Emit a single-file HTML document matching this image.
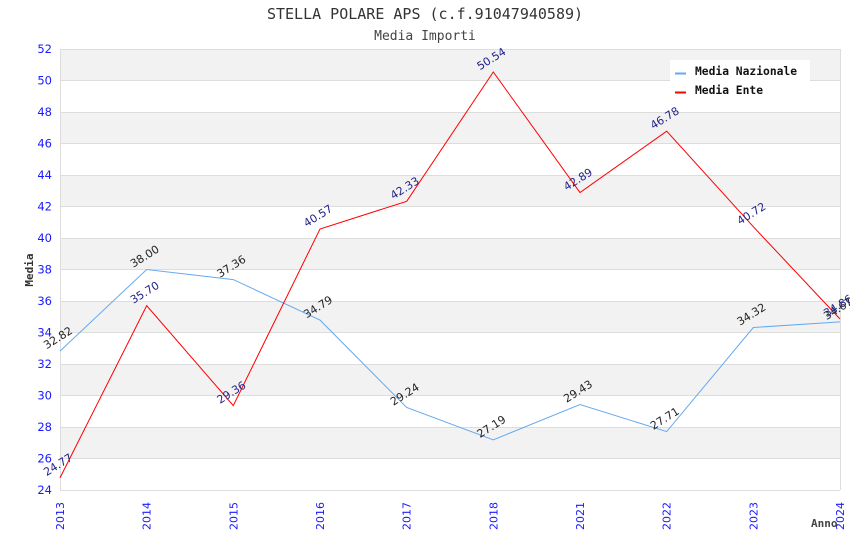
<!DOCTYPE html>
<html><head><meta charset="utf-8"><style>
html,body{margin:0;padding:0;background:#fff;}
svg{display:block;}
</style></head><body>
<svg width="850" height="550" viewBox="0 0 850 550" xmlns="http://www.w3.org/2000/svg">
<rect x="0" y="0" width="850" height="550" fill="#fff"/>
<!-- bands -->
<g fill="#f2f2f2">
<rect x="60" y="49" width="780" height="31.5"/>
<rect x="60" y="112" width="780" height="31.5"/>
<rect x="60" y="175" width="780" height="31.5"/>
<rect x="60" y="238" width="780" height="31.5"/>
<rect x="60" y="301" width="780" height="31.5"/>
<rect x="60" y="364" width="780" height="31.5"/>
<rect x="60" y="427" width="780" height="31.5"/>
</g>
<g stroke="#dddddd" stroke-width="1" fill="none">
<line x1="60" y1="49.5" x2="840" y2="49.5"/>
<line x1="60" y1="80.5" x2="840" y2="80.5"/>
<line x1="60" y1="112.5" x2="840" y2="112.5"/>
<line x1="60" y1="143.5" x2="840" y2="143.5"/>
<line x1="60" y1="175.5" x2="840" y2="175.5"/>
<line x1="60" y1="206.5" x2="840" y2="206.5"/>
<line x1="60" y1="238.5" x2="840" y2="238.5"/>
<line x1="60" y1="269.5" x2="840" y2="269.5"/>
<line x1="60" y1="301.5" x2="840" y2="301.5"/>
<line x1="60" y1="332.5" x2="840" y2="332.5"/>
<line x1="60" y1="364.5" x2="840" y2="364.5"/>
<line x1="60" y1="395.5" x2="840" y2="395.5"/>
<line x1="60" y1="427.5" x2="840" y2="427.5"/>
<line x1="60" y1="458.5" x2="840" y2="458.5"/>
<line x1="60" y1="490.5" x2="840" y2="490.5"/>
<line x1="60.5" y1="49" x2="60.5" y2="490"/>
<line x1="840.5" y1="49" x2="840.5" y2="490"/>
</g>
<!-- titles -->
<text x="425" y="19" text-anchor="middle" font-family="'DejaVu Sans Mono','Liberation Mono',monospace" font-size="15" fill="#333">STELLA POLARE APS (c.f.91047940589)</text>
<text x="425" y="40" text-anchor="middle" font-family="'DejaVu Sans Mono','Liberation Mono',monospace" font-size="13" fill="#444">Media Importi</text>
<!-- y ticks -->
<g font-family="'DejaVu Sans','Liberation Sans',sans-serif" font-size="11.5" fill="#1a1aff" text-anchor="end">
<text x="52" y="53">52</text>
<text x="52" y="84.5">50</text>
<text x="52" y="116">48</text>
<text x="52" y="147.5">46</text>
<text x="52" y="179">44</text>
<text x="52" y="210.5">42</text>
<text x="52" y="242">40</text>
<text x="52" y="273.5">38</text>
<text x="52" y="305">36</text>
<text x="52" y="336.5">34</text>
<text x="52" y="368">32</text>
<text x="52" y="399.5">30</text>
<text x="52" y="431">28</text>
<text x="52" y="462.5">26</text>
<text x="52" y="494">24</text>
</g>
<!-- x ticks -->
<g font-family="'DejaVu Sans','Liberation Sans',sans-serif" font-size="11" fill="#1a1aff" text-anchor="end">
<text transform="translate(64,502) rotate(-90)">2013</text>
<text transform="translate(150.7,502) rotate(-90)">2014</text>
<text transform="translate(237.3,502) rotate(-90)">2015</text>
<text transform="translate(324,502) rotate(-90)">2016</text>
<text transform="translate(410.7,502) rotate(-90)">2017</text>
<text transform="translate(497.3,502) rotate(-90)">2018</text>
<text transform="translate(584,502) rotate(-90)">2021</text>
<text transform="translate(670.7,502) rotate(-90)">2022</text>
<text transform="translate(757.3,502) rotate(-90)">2023</text>
<text transform="translate(844,502) rotate(-90)">2024</text>
</g>
<!-- axis titles -->
<text transform="translate(33,270) rotate(-90)" text-anchor="middle" font-family="'DejaVu Sans Mono','Liberation Mono',monospace" font-size="11" font-weight="bold" fill="#333">Media</text>
<text x="811" y="527" font-family="'DejaVu Sans Mono','Liberation Mono',monospace" font-size="11" font-weight="bold" fill="#444">Anno</text>
<!-- series -->
<polyline fill="none" stroke="#66aaee" stroke-width="1" points="60,351.1 146.7,269.5 233.3,279.6 320,320.1 406.7,407.5 493.3,439.8 580,404.5 666.7,431.6 753.3,327.5 840,321.9"/>
<polyline fill="none" stroke="#ff0000" stroke-width="1" points="60,477.9 146.7,305.7 233.3,405.6 320,229 406.7,201.3 493.3,72 580,192.5 666.7,131.2 753.3,226.7 840,319"/>
<!-- labels blue series -->
<g font-family="'DejaVu Sans','Liberation Sans',sans-serif" font-size="11" fill="#222" text-anchor="middle">
<text transform="translate(60,341) rotate(-32)">32.82</text>
<text transform="translate(146.7,259.5) rotate(-32)">38.00</text>
<text transform="translate(233.3,269.6) rotate(-32)">37.36</text>
<text transform="translate(320,310.1) rotate(-32)">34.79</text>
<text transform="translate(406.7,397.5) rotate(-32)">29.24</text>
<text transform="translate(493.3,429.8) rotate(-32)">27.19</text>
<text transform="translate(580,394.5) rotate(-32)">29.43</text>
<text transform="translate(666.7,421.6) rotate(-32)">27.71</text>
<text transform="translate(753.3,317.5) rotate(-32)">34.32</text>
<text transform="translate(840,311.9) rotate(-32)">34.67</text>
</g>
<g font-family="'DejaVu Sans','Liberation Sans',sans-serif" font-size="11" fill="#22228a" text-anchor="middle">
<text transform="translate(60,467.9) rotate(-32)">24.77</text>
<text transform="translate(146.7,295.7) rotate(-32)">35.70</text>
<text transform="translate(233.3,395.6) rotate(-32)">29.36</text>
<text transform="translate(320,219) rotate(-32)">40.57</text>
<text transform="translate(406.7,191.3) rotate(-32)">42.33</text>
<text transform="translate(493.3,62) rotate(-32)">50.54</text>
<text transform="translate(580,182.5) rotate(-32)">42.89</text>
<text transform="translate(666.7,121.2) rotate(-32)">46.78</text>
<text transform="translate(753.3,216.7) rotate(-32)">40.72</text>
<text transform="translate(840,309) rotate(-32)">34.86</text>
</g>
<!-- legend -->
<rect x="670" y="60" width="140" height="40" fill="#fff"/>
<line x1="675" y1="73.5" x2="686" y2="73.5" stroke="#66aaee" stroke-width="2"/>
<line x1="675" y1="92.5" x2="686" y2="92.5" stroke="#ff0000" stroke-width="2"/>
<g font-family="'DejaVu Sans Mono','Liberation Mono',monospace" font-size="11.3" font-weight="bold" fill="#111">
<text x="695" y="75">Media Nazionale</text>
<text x="695" y="94">Media Ente</text>
</g>
</svg>
</body></html>
